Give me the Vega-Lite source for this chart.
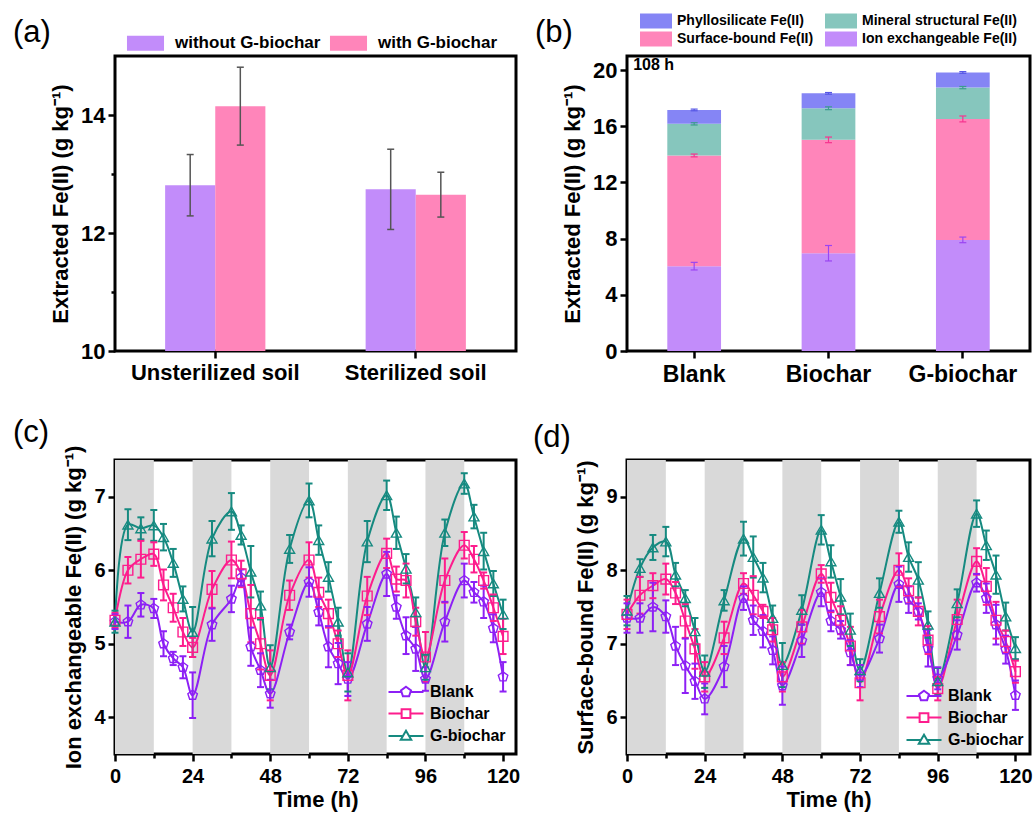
{
  "$schema": "https://vega.github.io/schema/vega-lite/v6.json",
  "background": "white",
  "padding": {"left": 11, "top": 12, "right": 0, "bottom": 0},
  "config": {
    "font": "Liberation Sans",
    "view": {"stroke": "black", "strokeWidth": 3},
    "axis": {"domain": false, "grid": false, "tickColor": "black", "tickWidth": 2.5, "tickSize": 7, "labelColor": "black", "labelFontWeight": "bold", "labelFontSize": 21, "labelPadding": 3, "labelOverlap": false, "labelFlush": false, "titleColor": "black", "titleFontWeight": "bold", "titleFontSize": 22, "titlePadding": 8, "zindex": 1},
    "title": {"fontSize": 31, "fontWeight": "normal", "color": "black", "anchor": "start", "frame": "group", "offset": 0},
    "legend": {"labelFontWeight": "bold", "labelColor": "black"}
  },
  "resolve": {"scale": {"color": "independent", "stroke": "independent", "shape": "independent", "x": "independent", "y": "independent"}, "legend": {"color": "independent", "stroke": "independent", "shape": "independent"}},
  "datasets": {
    "a": [
      {"soil": "Unsterilized soil", "group": "without G-biochar", "value": 12.81, "err": 0.52},
      {"soil": "Unsterilized soil", "group": "with G-biochar", "value": 14.15, "err": 0.66},
      {"soil": "Sterilized soil", "group": "without G-biochar", "value": 12.74, "err": 0.68},
      {"soil": "Sterilized soil", "group": "with G-biochar", "value": 12.65, "err": 0.38}
    ],
    "b": [
      {"sample": "Blank", "fraction": "Ion exchangeable Fe(II)", "value": 6.04, "err": 0.27},
      {"sample": "Blank", "fraction": "Surface-bound Fe(II)", "value": 7.88, "err": 0.1},
      {"sample": "Blank", "fraction": "Mineral structural Fe(II)", "value": 2.25, "err": 0.08},
      {"sample": "Blank", "fraction": "Phyllosilicate Fe(II)", "value": 0.99, "err": 0.06},
      {"sample": "Biochar", "fraction": "Ion exchangeable Fe(II)", "value": 6.96, "err": 0.55},
      {"sample": "Biochar", "fraction": "Surface-bound Fe(II)", "value": 8.07, "err": 0.2},
      {"sample": "Biochar", "fraction": "Mineral structural Fe(II)", "value": 2.25, "err": 0.1},
      {"sample": "Biochar", "fraction": "Phyllosilicate Fe(II)", "value": 1.06, "err": 0.06},
      {"sample": "G-biochar", "fraction": "Ion exchangeable Fe(II)", "value": 7.91, "err": 0.2},
      {"sample": "G-biochar", "fraction": "Surface-bound Fe(II)", "value": 8.61, "err": 0.21},
      {"sample": "G-biochar", "fraction": "Mineral structural Fe(II)", "value": 2.23, "err": 0.08},
      {"sample": "G-biochar", "fraction": "Phyllosilicate Fe(II)", "value": 1.08, "err": 0.06}
    ],
    "dark": [
      {"start": 0, "end": 12}, {"start": 24, "end": 36}, {"start": 48, "end": 60}, {"start": 72, "end": 84}, {"start": 96, "end": 108}
    ],
    "c": [
      {"t": 0, "s": "G-biochar", "v": 5.3, "e": 0.15}, {"t": 4, "s": "G-biochar", "v": 6.62, "e": 0.21}, {"t": 8, "s": "G-biochar", "v": 6.57, "e": 0.15}, {"t": 12, "s": "G-biochar", "v": 6.61, "e": 0.21},
      {"t": 15, "s": "G-biochar", "v": 6.45, "e": 0.18}, {"t": 18, "s": "G-biochar", "v": 6.1, "e": 0.19}, {"t": 21, "s": "G-biochar", "v": 5.61, "e": 0.17}, {"t": 24, "s": "G-biochar", "v": 5.16, "e": 0.34},
      {"t": 30, "s": "G-biochar", "v": 6.43, "e": 0.24}, {"t": 36, "s": "G-biochar", "v": 6.8, "e": 0.25}, {"t": 39, "s": "G-biochar", "v": 6.48, "e": 0.13}, {"t": 42, "s": "G-biochar", "v": 5.98, "e": 0.35},
      {"t": 45, "s": "G-biochar", "v": 5.52, "e": 0.19}, {"t": 48, "s": "G-biochar", "v": 4.68, "e": 0.3}, {"t": 54, "s": "G-biochar", "v": 6.29, "e": 0.19}, {"t": 60, "s": "G-biochar", "v": 6.95, "e": 0.23},
      {"t": 63, "s": "G-biochar", "v": 6.41, "e": 0.2}, {"t": 66, "s": "G-biochar", "v": 5.91, "e": 0.2}, {"t": 69, "s": "G-biochar", "v": 5.3, "e": 0.19}, {"t": 72, "s": "G-biochar", "v": 4.61, "e": 0.26},
      {"t": 78, "s": "G-biochar", "v": 6.39, "e": 0.28}, {"t": 84, "s": "G-biochar", "v": 7.02, "e": 0.2}, {"t": 87, "s": "G-biochar", "v": 6.51, "e": 0.22}, {"t": 90, "s": "G-biochar", "v": 6.02, "e": 0.2},
      {"t": 93, "s": "G-biochar", "v": 5.43, "e": 0.2}, {"t": 96, "s": "G-biochar", "v": 4.68, "e": 0.17}, {"t": 102, "s": "G-biochar", "v": 6.51, "e": 0.18}, {"t": 108, "s": "G-biochar", "v": 7.18, "e": 0.14},
      {"t": 111, "s": "G-biochar", "v": 6.73, "e": 0.16}, {"t": 114, "s": "G-biochar", "v": 6.26, "e": 0.25}, {"t": 117, "s": "G-biochar", "v": 5.82, "e": 0.17}, {"t": 120, "s": "G-biochar", "v": 5.4, "e": 0.2},
      {"t": 0, "s": "Biochar", "v": 5.32, "e": 0.1}, {"t": 4, "s": "Biochar", "v": 6.0, "e": 0.18}, {"t": 8, "s": "Biochar", "v": 6.15, "e": 0.25}, {"t": 12, "s": "Biochar", "v": 6.22, "e": 0.16},
      {"t": 15, "s": "Biochar", "v": 5.8, "e": 0.21}, {"t": 18, "s": "Biochar", "v": 5.49, "e": 0.19}, {"t": 21, "s": "Biochar", "v": 5.16, "e": 0.19}, {"t": 24, "s": "Biochar", "v": 4.95, "e": 0.13},
      {"t": 30, "s": "Biochar", "v": 5.74, "e": 0.25}, {"t": 36, "s": "Biochar", "v": 6.14, "e": 0.25}, {"t": 39, "s": "Biochar", "v": 5.95, "e": 0.18}, {"t": 42, "s": "Biochar", "v": 5.41, "e": 0.39},
      {"t": 45, "s": "Biochar", "v": 5.0, "e": 0.35}, {"t": 48, "s": "Biochar", "v": 4.57, "e": 0.34}, {"t": 54, "s": "Biochar", "v": 5.66, "e": 0.2}, {"t": 60, "s": "Biochar", "v": 6.14, "e": 0.24},
      {"t": 63, "s": "Biochar", "v": 5.7, "e": 0.2}, {"t": 66, "s": "Biochar", "v": 5.41, "e": 0.19}, {"t": 69, "s": "Biochar", "v": 5.0, "e": 0.18}, {"t": 72, "s": "Biochar", "v": 4.57, "e": 0.34},
      {"t": 78, "s": "Biochar", "v": 5.65, "e": 0.26}, {"t": 84, "s": "Biochar", "v": 6.23, "e": 0.2}, {"t": 87, "s": "Biochar", "v": 5.88, "e": 0.17}, {"t": 90, "s": "Biochar", "v": 5.86, "e": 0.23},
      {"t": 93, "s": "Biochar", "v": 5.3, "e": 0.19}, {"t": 96, "s": "Biochar", "v": 4.82, "e": 0.34}, {"t": 102, "s": "Biochar", "v": 5.86, "e": 0.3}, {"t": 108, "s": "Biochar", "v": 6.34, "e": 0.18},
      {"t": 111, "s": "Biochar", "v": 6.15, "e": 0.18}, {"t": 114, "s": "Biochar", "v": 5.86, "e": 0.11}, {"t": 117, "s": "Biochar", "v": 5.49, "e": 0.18}, {"t": 120, "s": "Biochar", "v": 5.1, "e": 0.24},
      {"t": 0, "s": "Blank", "v": 5.3, "e": 0.1}, {"t": 4, "s": "Blank", "v": 5.3, "e": 0.22}, {"t": 8, "s": "Blank", "v": 5.53, "e": 0.16}, {"t": 12, "s": "Blank", "v": 5.48, "e": 0.13},
      {"t": 15, "s": "Blank", "v": 5.0, "e": 0.17}, {"t": 18, "s": "Blank", "v": 4.8, "e": 0.09}, {"t": 21, "s": "Blank", "v": 4.68, "e": 0.15}, {"t": 24, "s": "Blank", "v": 4.3, "e": 0.31},
      {"t": 30, "s": "Blank", "v": 5.26, "e": 0.22}, {"t": 36, "s": "Blank", "v": 5.61, "e": 0.18}, {"t": 39, "s": "Blank", "v": 5.9, "e": 0.11}, {"t": 42, "s": "Blank", "v": 4.96, "e": 0.26},
      {"t": 45, "s": "Blank", "v": 4.64, "e": 0.23}, {"t": 48, "s": "Blank", "v": 4.32, "e": 0.19}, {"t": 54, "s": "Blank", "v": 5.16, "e": 0.1}, {"t": 60, "s": "Blank", "v": 5.84, "e": 0.2},
      {"t": 63, "s": "Blank", "v": 5.43, "e": 0.18}, {"t": 66, "s": "Blank", "v": 4.96, "e": 0.28}, {"t": 69, "s": "Blank", "v": 4.73, "e": 0.28}, {"t": 72, "s": "Blank", "v": 4.52, "e": 0.23},
      {"t": 78, "s": "Blank", "v": 5.27, "e": 0.23}, {"t": 84, "s": "Blank", "v": 5.95, "e": 0.3}, {"t": 87, "s": "Blank", "v": 5.5, "e": 0.16}, {"t": 90, "s": "Blank", "v": 5.11, "e": 0.25},
      {"t": 93, "s": "Blank", "v": 4.93, "e": 0.3}, {"t": 96, "s": "Blank", "v": 4.52, "e": 0.16}, {"t": 102, "s": "Blank", "v": 5.3, "e": 0.27}, {"t": 108, "s": "Blank", "v": 5.86, "e": 0.23},
      {"t": 111, "s": "Blank", "v": 5.7, "e": 0.14}, {"t": 114, "s": "Blank", "v": 5.57, "e": 0.22}, {"t": 117, "s": "Blank", "v": 5.21, "e": 0.19}, {"t": 120, "s": "Blank", "v": 4.55, "e": 0.2}
    ],
    "d": [
      {"t": 0, "s": "G-biochar", "v": 7.45, "e": 0.2}, {"t": 4, "s": "G-biochar", "v": 8.03, "e": 0.12}, {"t": 8, "s": "G-biochar", "v": 8.31, "e": 0.17}, {"t": 12, "s": "G-biochar", "v": 8.39, "e": 0.2},
      {"t": 15, "s": "G-biochar", "v": 7.94, "e": 0.16}, {"t": 18, "s": "G-biochar", "v": 7.62, "e": 0.11}, {"t": 21, "s": "G-biochar", "v": 7.17, "e": 0.18}, {"t": 24, "s": "G-biochar", "v": 6.62, "e": 0.22},
      {"t": 30, "s": "G-biochar", "v": 7.59, "e": 0.14}, {"t": 36, "s": "G-biochar", "v": 8.43, "e": 0.23}, {"t": 39, "s": "G-biochar", "v": 8.18, "e": 0.28}, {"t": 42, "s": "G-biochar", "v": 7.9, "e": 0.2},
      {"t": 45, "s": "G-biochar", "v": 7.35, "e": 0.17}, {"t": 48, "s": "G-biochar", "v": 6.71, "e": 0.3}, {"t": 54, "s": "G-biochar", "v": 7.46, "e": 0.2}, {"t": 60, "s": "G-biochar", "v": 8.55, "e": 0.2},
      {"t": 63, "s": "G-biochar", "v": 8.12, "e": 0.22}, {"t": 66, "s": "G-biochar", "v": 7.64, "e": 0.24}, {"t": 69, "s": "G-biochar", "v": 7.19, "e": 0.22}, {"t": 72, "s": "G-biochar", "v": 6.64, "e": 0.15},
      {"t": 78, "s": "G-biochar", "v": 7.69, "e": 0.2}, {"t": 84, "s": "G-biochar", "v": 8.66, "e": 0.15}, {"t": 87, "s": "G-biochar", "v": 8.18, "e": 0.2}, {"t": 90, "s": "G-biochar", "v": 7.87, "e": 0.24},
      {"t": 93, "s": "G-biochar", "v": 7.26, "e": 0.18}, {"t": 96, "s": "G-biochar", "v": 6.49, "e": 0.18}, {"t": 102, "s": "G-biochar", "v": 7.55, "e": 0.19}, {"t": 108, "s": "G-biochar", "v": 8.77, "e": 0.18},
      {"t": 111, "s": "G-biochar", "v": 8.34, "e": 0.2}, {"t": 114, "s": "G-biochar", "v": 7.94, "e": 0.26}, {"t": 117, "s": "G-biochar", "v": 7.37, "e": 0.19}, {"t": 120, "s": "G-biochar", "v": 6.94, "e": 0.15},
      {"t": 0, "s": "Biochar", "v": 7.4, "e": 0.2}, {"t": 4, "s": "Biochar", "v": 7.66, "e": 0.25}, {"t": 8, "s": "Biochar", "v": 7.79, "e": 0.17}, {"t": 12, "s": "Biochar", "v": 7.88, "e": 0.21},
      {"t": 15, "s": "Biochar", "v": 7.69, "e": 0.15}, {"t": 18, "s": "Biochar", "v": 7.31, "e": 0.23}, {"t": 21, "s": "Biochar", "v": 6.93, "e": 0.27}, {"t": 24, "s": "Biochar", "v": 6.55, "e": 0.2},
      {"t": 30, "s": "Biochar", "v": 7.08, "e": 0.22}, {"t": 36, "s": "Biochar", "v": 7.82, "e": 0.14}, {"t": 39, "s": "Biochar", "v": 7.66, "e": 0.26}, {"t": 42, "s": "Biochar", "v": 7.44, "e": 0.09},
      {"t": 45, "s": "Biochar", "v": 7.19, "e": 0.16}, {"t": 48, "s": "Biochar", "v": 6.55, "e": 0.2}, {"t": 54, "s": "Biochar", "v": 7.23, "e": 0.23}, {"t": 60, "s": "Biochar", "v": 7.95, "e": 0.12},
      {"t": 63, "s": "Biochar", "v": 7.63, "e": 0.2}, {"t": 66, "s": "Biochar", "v": 7.32, "e": 0.19}, {"t": 69, "s": "Biochar", "v": 6.97, "e": 0.26}, {"t": 72, "s": "Biochar", "v": 6.47, "e": 0.24},
      {"t": 78, "s": "Biochar", "v": 7.37, "e": 0.23}, {"t": 84, "s": "Biochar", "v": 8.0, "e": 0.23}, {"t": 87, "s": "Biochar", "v": 7.72, "e": 0.17}, {"t": 90, "s": "Biochar", "v": 7.44, "e": 0.19},
      {"t": 93, "s": "Biochar", "v": 7.05, "e": 0.19}, {"t": 96, "s": "Biochar", "v": 6.39, "e": 0.16}, {"t": 102, "s": "Biochar", "v": 7.33, "e": 0.27}, {"t": 108, "s": "Biochar", "v": 8.12, "e": 0.18},
      {"t": 111, "s": "Biochar", "v": 7.78, "e": 0.25}, {"t": 114, "s": "Biochar", "v": 7.32, "e": 0.25}, {"t": 117, "s": "Biochar", "v": 7.03, "e": 0.15}, {"t": 120, "s": "Biochar", "v": 6.62, "e": 0.15},
      {"t": 0, "s": "Blank", "v": 7.35, "e": 0.2}, {"t": 4, "s": "Blank", "v": 7.35, "e": 0.2}, {"t": 8, "s": "Blank", "v": 7.5, "e": 0.33}, {"t": 12, "s": "Blank", "v": 7.37, "e": 0.22},
      {"t": 15, "s": "Blank", "v": 6.97, "e": 0.26}, {"t": 18, "s": "Blank", "v": 6.7, "e": 0.37}, {"t": 21, "s": "Blank", "v": 6.49, "e": 0.24}, {"t": 24, "s": "Blank", "v": 6.25, "e": 0.21},
      {"t": 30, "s": "Blank", "v": 6.69, "e": 0.28}, {"t": 36, "s": "Blank", "v": 7.62, "e": 0.16}, {"t": 39, "s": "Blank", "v": 7.32, "e": 0.2}, {"t": 42, "s": "Blank", "v": 7.17, "e": 0.22},
      {"t": 45, "s": "Blank", "v": 6.91, "e": 0.19}, {"t": 48, "s": "Blank", "v": 6.43, "e": 0.26}, {"t": 54, "s": "Blank", "v": 7.04, "e": 0.22}, {"t": 60, "s": "Blank", "v": 7.7, "e": 0.19},
      {"t": 63, "s": "Blank", "v": 7.31, "e": 0.14}, {"t": 66, "s": "Blank", "v": 7.19, "e": 0.12}, {"t": 69, "s": "Blank", "v": 6.88, "e": 0.17}, {"t": 72, "s": "Blank", "v": 6.56, "e": 0.15},
      {"t": 78, "s": "Blank", "v": 7.07, "e": 0.19}, {"t": 84, "s": "Blank", "v": 7.81, "e": 0.24}, {"t": 87, "s": "Blank", "v": 7.6, "e": 0.18}, {"t": 90, "s": "Blank", "v": 7.44, "e": 0.11},
      {"t": 93, "s": "Blank", "v": 6.94, "e": 0.25}, {"t": 96, "s": "Blank", "v": 6.53, "e": 0.15}, {"t": 102, "s": "Blank", "v": 7.12, "e": 0.2}, {"t": 108, "s": "Blank", "v": 7.83, "e": 0.12},
      {"t": 111, "s": "Blank", "v": 7.62, "e": 0.2}, {"t": 114, "s": "Blank", "v": 7.26, "e": 0.27}, {"t": 117, "s": "Blank", "v": 6.92, "e": 0.19}, {"t": 120, "s": "Blank", "v": 6.3, "e": 0.2}
    ]
  },
  "columns": 2,
  "bounds": "flush",
  "spacing": {"row": 109, "column": 111},
  "concat": [
    {
      "width": 401, "height": 295,
      "title": {"text": "(a)", "dx": -102, "dy": 18},
      "data": {"name": "a"},
      "transform": [
        {"calculate": "datum.value - datum.err", "as": "lo"},
        {"calculate": "datum.value + datum.err", "as": "hi"}
      ],
      "encoding": {
        "x": {"field": "soil", "type": "nominal", "sort": ["Unsterilized soil", "Sterilized soil"], "scale": {"paddingInner": 0.5, "paddingOuter": 0.25}, "axis": {"title": null, "labelAngle": 0, "labelFontSize": 22, "labelPadding": 4}},
        "xOffset": {"field": "group", "type": "nominal", "sort": ["without G-biochar", "with G-biochar"], "scale": {"paddingInner": 0, "paddingOuter": 0}}
      },
      "layer": [
        {
          "mark": {"type": "bar"},
          "encoding": {
            "y": {"field": "value", "type": "quantitative", "scale": {"domain": [10, 15], "zero": false, "nice": false}, "axis": {"title": "Extracted Fe(II) (g kg⁻¹)", "values": [10, 11, 12, 13, 14], "format": "d", "labelExpr": "datum.value % 2 === 0 ? datum.label : ''", "tickSize": {"condition": {"test": "datum.value % 2 === 0", "value": 7}, "value": 4}, "labelFontSize": 22}},
            "y2": {"datum": 10},
            "color": {"field": "group", "type": "nominal", "scale": {"domain": ["without G-biochar", "with G-biochar"], "range": ["#c28cfa", "#ff85ba"]}, "legend": {"title": null, "orient": "none", "legendX": 22, "legendY": -21.5, "direction": "horizontal", "symbolType": "M-2.47,-1H2.47V1H-2.47Z", "symbolSize": 225, "symbolStrokeWidth": 0, "symbolOpacity": 1, "labelFontSize": 17, "labelOffset": 21, "columnPadding": 8, "padding": 0}}
          }
        },
        {
          "mark": {"type": "rule", "color": "#555555", "strokeWidth": 1.5},
          "encoding": {"y": {"field": "lo", "type": "quantitative"}, "y2": {"field": "hi"}}
        },
        {
          "mark": {"type": "point", "shape": "stroke", "size": 49, "color": "#555555", "strokeWidth": 1.5, "opacity": 1, "filled": false},
          "encoding": {"y": {"field": "lo", "type": "quantitative"}}
        },
        {
          "mark": {"type": "point", "shape": "stroke", "size": 49, "color": "#555555", "strokeWidth": 1.5, "opacity": 1, "filled": false},
          "encoding": {"y": {"field": "hi", "type": "quantitative"}}
        }
      ]
    },
    {
      "width": 403, "height": 295,
      "title": {"text": "(b)", "dx": -92, "dy": 39},
      "layer": [
        {
          "data": {"name": "b"},
          "transform": [
            {"calculate": "indexof(['Ion exchangeable Fe(II)','Surface-bound Fe(II)','Mineral structural Fe(II)','Phyllosilicate Fe(II)'], datum.fraction)", "as": "ord"},
            {"stack": "value", "groupby": ["sample"], "sort": [{"field": "ord", "order": "ascending"}], "as": ["y0", "y1"]},
            {"calculate": "datum.y1 - datum.err", "as": "lo"},
            {"calculate": "datum.y1 + datum.err", "as": "hi"},
            {"calculate": "datum.ord === 0 ? '#9b45f2' : datum.ord === 1 ? '#f7338f' : datum.ord === 2 ? '#3c9c8e' : '#5757e6'", "as": "ec"}
          ],
          "encoding": {
            "x": {"field": "sample", "type": "nominal", "sort": ["Blank", "Biochar", "G-biochar"], "scale": {"paddingInner": 0.6, "paddingOuter": 0.3}, "axis": {"title": null, "labelAngle": 0, "labelFontSize": 23, "labelPadding": 5}}
          },
          "layer": [
            {
              "mark": {"type": "bar"},
              "encoding": {
                "y": {"field": "y0", "type": "quantitative", "scale": {"domain": [0, 21], "nice": false, "zero": true}, "axis": {"title": "Extracted Fe(II) (g kg⁻¹)", "values": [0, 2, 4, 6, 8, 10, 12, 14, 16, 18, 20], "format": "d", "labelExpr": "datum.value % 4 === 0 ? datum.label : ''", "tickSize": {"condition": {"test": "datum.value % 4 === 0", "value": 7}, "value": 4}, "labelFontSize": 22}},
                "y2": {"field": "y1"},
                "color": {"field": "fraction", "type": "nominal", "scale": {"domain": ["Phyllosilicate Fe(II)", "Mineral structural Fe(II)", "Surface-bound Fe(II)", "Ion exchangeable Fe(II)"], "range": ["#8585f5", "#86c6bd", "#ff85ba", "#c28cfa"]}, "legend": {"title": null, "orient": "none", "legendX": 21.5, "legendY": -42.5, "columns": 2, "direction": "horizontal", "symbolType": "M-2.13,-1H2.13V1H-2.13Z", "symbolSize": 225, "symbolStrokeWidth": 0, "symbolOpacity": 1, "labelFontSize": 14, "labelOffset": 13.5, "columnPadding": 11, "rowPadding": 3, "padding": 0}}
              }
            },
            {
              "mark": {"type": "rule", "strokeWidth": 1.2},
              "encoding": {"y": {"field": "lo", "type": "quantitative"}, "y2": {"field": "hi"}, "stroke": {"field": "ec", "type": "nominal", "scale": null}}
            },
            {
              "mark": {"type": "point", "shape": "stroke", "size": 49, "strokeWidth": 1.2, "opacity": 1, "filled": false},
              "encoding": {"y": {"field": "lo", "type": "quantitative"}, "stroke": {"field": "ec", "type": "nominal", "scale": null}}
            },
            {
              "mark": {"type": "point", "shape": "stroke", "size": 49, "strokeWidth": 1.2, "opacity": 1, "filled": false},
              "encoding": {"y": {"field": "hi", "type": "quantitative"}, "stroke": {"field": "ec", "type": "nominal", "scale": null}}
            }
          ]
        },
        {
          "data": {"values": [{"label": "108 h"}]},
          "mark": {"type": "text", "align": "left", "baseline": "middle", "fontSize": 16, "fontWeight": "bold", "color": "black", "dx": -61},
          "encoding": {"x": {"datum": "Blank"}, "y": {"datum": 20.35}, "text": {"field": "label"}}
        }
      ]
    },
    {
      "width": 401, "height": 294,
      "title": {"text": "(c)", "dx": -102, "dy": 8},
      "layer": [
        {
          "data": {"name": "dark"},
          "mark": {"type": "rect", "color": "#d9d9d9"},
          "encoding": {
            "x": {"field": "start", "type": "quantitative", "scale": {"domain": [0, 124], "nice": false}, "axis": {"title": "Time (h)", "values": [0, 12, 24, 36, 48, 60, 72, 84, 96, 108, 120], "format": "d", "labelExpr": "datum.value % 24 === 0 ? datum.label : ''", "tickSize": {"condition": {"test": "datum.value % 24 === 0", "value": 7}, "value": 4}, "labelFontSize": 20, "labelPadding": 5, "titlePadding": 3}},
            "x2": {"field": "end"}
          }
        },
        {
          "data": {"name": "c"},
          "transform": [
            {"calculate": "datum.v - datum.e", "as": "lo"},
            {"calculate": "datum.v + datum.e", "as": "hi"}
          ],
          "encoding": {
            "x": {"field": "t", "type": "quantitative", "axis": {"title": "Time (h)"}},
            "stroke": {"field": "s", "type": "nominal", "scale": {"domain": ["Blank", "Biochar", "G-biochar"], "range": ["#8d20f5", "#fd1d8d", "#168a80"]}, "legend": {"title": null, "orient": "bottom-right", "offset": 10, "padding": 0, "symbolSize": 100, "symbolStrokeWidth": 2, "symbolFillColor": "transparent", "labelFontSize": 16, "labelOffset": 16, "rowPadding": 3.5}}
          },
          "layer": [
            {
              "mark": {"type": "line", "interpolate": "catmull-rom", "strokeWidth": 2},
              "encoding": {"y": {"field": "v", "type": "quantitative", "scale": {"domain": [3.5, 7.5], "nice": false, "zero": false}, "axis": {"title": "Ion exchangeable Fe(II) (g kg⁻¹)", "values": [4, 4.5, 5, 5.5, 6, 6.5, 7], "format": "d", "labelExpr": "datum.value % 1 === 0 ? datum.label : ''", "tickSize": {"condition": {"test": "datum.value % 1 === 0", "value": 7}, "value": 4}, "labelFontSize": 20}}}
            },
            {
              "mark": {"type": "rule", "strokeWidth": 2},
              "encoding": {"y": {"field": "lo", "type": "quantitative"}, "y2": {"field": "hi"}}
            },
            {
              "mark": {"type": "point", "shape": "stroke", "size": 49, "strokeWidth": 2, "opacity": 1, "filled": false},
              "encoding": {"y": {"field": "lo", "type": "quantitative"}}
            },
            {
              "mark": {"type": "point", "shape": "stroke", "size": 49, "strokeWidth": 2, "opacity": 1, "filled": false},
              "encoding": {"y": {"field": "hi", "type": "quantitative"}}
            },
            {
              "transform": [{"filter": "datum.s === 'Blank'"}],
              "mark": {"type": "point", "shape": "M0,-1L0.951,-0.309L0.588,0.809L-0.588,0.809L-0.951,-0.309Z", "filled": false, "size": 100, "strokeWidth": 1.4, "opacity": 1},
              "encoding": {"y": {"field": "v", "type": "quantitative"}}
            },
            {
              "transform": [{"filter": "datum.s === 'Biochar'"}],
              "mark": {"type": "point", "shape": "square", "filled": false, "size": 95, "strokeWidth": 1.4, "opacity": 1},
              "encoding": {"y": {"field": "v", "type": "quantitative"}}
            },
            {
              "transform": [{"filter": "datum.s === 'G-biochar'"}],
              "mark": {"type": "point", "shape": "triangle-up", "filled": false, "size": 100, "strokeWidth": 1.4, "opacity": 1},
              "encoding": {"y": {"field": "v", "type": "quantitative"}}
            },
            {
              "data": {"values": []},
              "mark": {"type": "point", "filled": false, "strokeWidth": 2, "opacity": 1},
              "encoding": {
                "shape": {"field": "s", "type": "nominal", "scale": {"domain": ["Blank", "Biochar", "G-biochar"], "range": ["M-3.5,0H-0.91M0.91,0H3.5M0,-1.05L1,-0.325L0.617,0.85L-0.617,0.85L-1,-0.325Z", "M-3.5,0H-0.875M0.875,0H3.5M-0.875,-0.875H0.875V0.875H-0.875Z", "M-3.5,0H-0.6M0.6,0H3.5M0,-1.05L1.05,0.77L-1.05,0.77Z"]}, "legend": {"title": null, "orient": "bottom-right", "offset": 10, "padding": 0, "symbolSize": 100, "symbolStrokeWidth": 2, "symbolFillColor": "transparent", "labelFontSize": 16, "labelOffset": 16, "rowPadding": 3.5}}
              }
            }
          ]
        }
      ]
    },
    {
      "width": 403, "height": 294,
      "title": {"text": "(d)", "dx": -94, "dy": -1.5},
      "layer": [
        {
          "data": {"name": "dark"},
          "mark": {"type": "rect", "color": "#d9d9d9"},
          "encoding": {
            "x": {"field": "start", "type": "quantitative", "scale": {"domain": [0, 124.5], "nice": false}, "axis": {"title": "Time (h)", "values": [0, 12, 24, 36, 48, 60, 72, 84, 96, 108, 120], "format": "d", "labelExpr": "datum.value % 24 === 0 ? datum.label : ''", "tickSize": {"condition": {"test": "datum.value % 24 === 0", "value": 7}, "value": 4}, "labelFontSize": 20, "labelPadding": 5, "titlePadding": 3}},
            "x2": {"field": "end"}
          }
        },
        {
          "data": {"name": "d"},
          "transform": [
            {"calculate": "datum.v - datum.e", "as": "lo"},
            {"calculate": "datum.v + datum.e", "as": "hi"}
          ],
          "encoding": {
            "x": {"field": "t", "type": "quantitative", "axis": {"title": "Time (h)"}},
            "stroke": {"field": "s", "type": "nominal", "scale": {"domain": ["Blank", "Biochar", "G-biochar"], "range": ["#8d20f5", "#fd1d8d", "#168a80"]}, "legend": {"title": null, "orient": "bottom-right", "offset": 6, "padding": 0, "symbolSize": 100, "symbolStrokeWidth": 2, "symbolFillColor": "transparent", "labelFontSize": 16, "labelOffset": 16, "rowPadding": 3.5}}
          },
          "layer": [
            {
              "mark": {"type": "line", "interpolate": "catmull-rom", "strokeWidth": 2},
              "encoding": {"y": {"field": "v", "type": "quantitative", "scale": {"domain": [5.5, 9.5], "nice": false, "zero": false}, "axis": {"title": "Surface-bound Fe(II) (g kg⁻¹)", "values": [6, 6.5, 7, 7.5, 8, 8.5, 9], "format": "d", "labelExpr": "datum.value % 1 === 0 ? datum.label : ''", "tickSize": {"condition": {"test": "datum.value % 1 === 0", "value": 7}, "value": 4}, "labelFontSize": 20}}}
            },
            {
              "mark": {"type": "rule", "strokeWidth": 2},
              "encoding": {"y": {"field": "lo", "type": "quantitative"}, "y2": {"field": "hi"}}
            },
            {
              "mark": {"type": "point", "shape": "stroke", "size": 49, "strokeWidth": 2, "opacity": 1, "filled": false},
              "encoding": {"y": {"field": "lo", "type": "quantitative"}}
            },
            {
              "mark": {"type": "point", "shape": "stroke", "size": 49, "strokeWidth": 2, "opacity": 1, "filled": false},
              "encoding": {"y": {"field": "hi", "type": "quantitative"}}
            },
            {
              "transform": [{"filter": "datum.s === 'Blank'"}],
              "mark": {"type": "point", "shape": "M0,-1L0.951,-0.309L0.588,0.809L-0.588,0.809L-0.951,-0.309Z", "filled": false, "size": 100, "strokeWidth": 1.4, "opacity": 1},
              "encoding": {"y": {"field": "v", "type": "quantitative"}}
            },
            {
              "transform": [{"filter": "datum.s === 'Biochar'"}],
              "mark": {"type": "point", "shape": "square", "filled": false, "size": 95, "strokeWidth": 1.4, "opacity": 1},
              "encoding": {"y": {"field": "v", "type": "quantitative"}}
            },
            {
              "transform": [{"filter": "datum.s === 'G-biochar'"}],
              "mark": {"type": "point", "shape": "triangle-up", "filled": false, "size": 100, "strokeWidth": 1.4, "opacity": 1},
              "encoding": {"y": {"field": "v", "type": "quantitative"}}
            },
            {
              "data": {"values": []},
              "mark": {"type": "point", "filled": false, "strokeWidth": 2, "opacity": 1},
              "encoding": {
                "shape": {"field": "s", "type": "nominal", "scale": {"domain": ["Blank", "Biochar", "G-biochar"], "range": ["M-3.5,0H-0.91M0.91,0H3.5M0,-1.05L1,-0.325L0.617,0.85L-0.617,0.85L-1,-0.325Z", "M-3.5,0H-0.875M0.875,0H3.5M-0.875,-0.875H0.875V0.875H-0.875Z", "M-3.5,0H-0.6M0.6,0H3.5M0,-1.05L1.05,0.77L-1.05,0.77Z"]}, "legend": {"title": null, "orient": "bottom-right", "offset": 6, "padding": 0, "symbolSize": 100, "symbolStrokeWidth": 2, "symbolFillColor": "transparent", "labelFontSize": 16, "labelOffset": 16, "rowPadding": 3.5}}
              }
            }
          ]
        }
      ]
    }
  ]
}
